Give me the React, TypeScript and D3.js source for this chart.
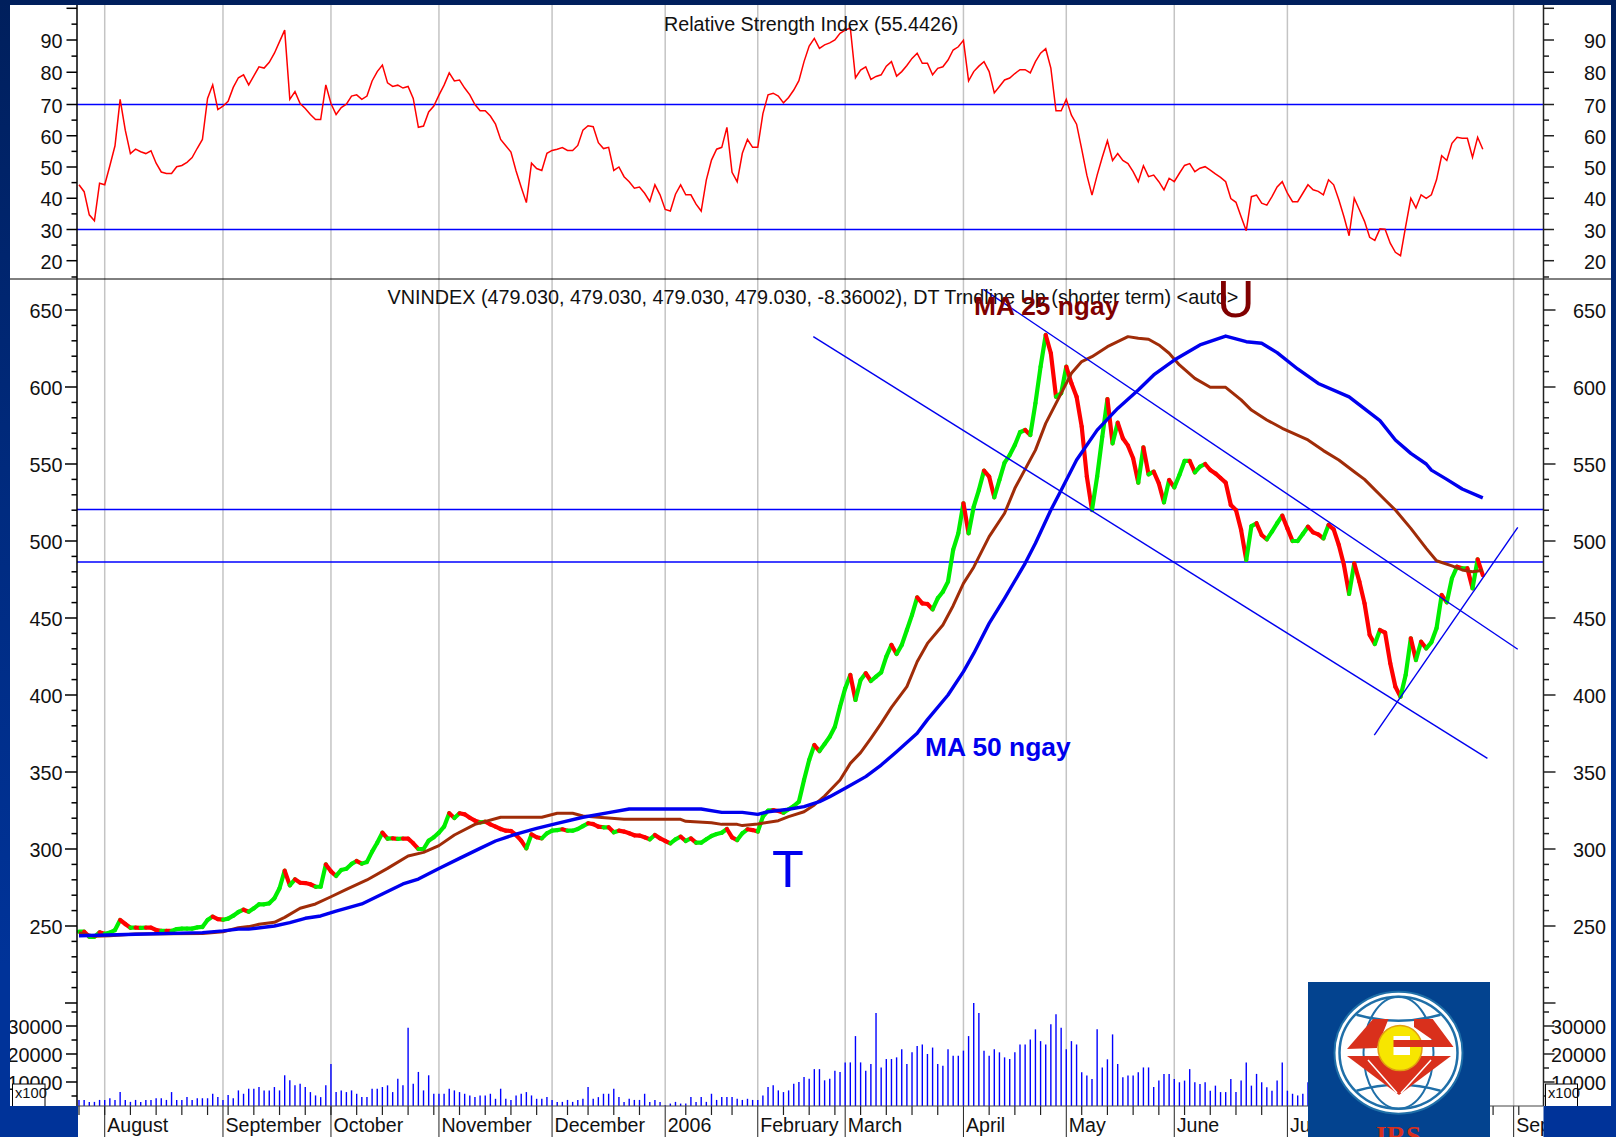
import * as d3 from 'd3'

// bar number of each month line and its label
const monthBars = [5, 28, 49, 70, 92, 114, 132, 149, 172, 192, 213, 235, 279]
const monthLabels = ['August', 'September', 'October', 'November', 'December', '2006', 'February', 'March', 'April', 'May', 'June', 'July', 'September']
const weekBars = [0, 5, 10, 15, 20, 25, 29, 34, 39, 44, 49, 54, 59, 64, 69, 74, 79, 84, 89, 95, 99, 104, 109, 118, 123, 127, 137, 142, 147, 152, 157, 162, 167, 177, 182, 187, 195, 200, 205, 210, 215, 220, 225, 230, 275, 280]

const closes = [
	246.3, 246.3, 243, 243, 245.9, 245, 245.7, 247.4, 253.9, 251.3,
	248.9, 249, 248.8, 249, 248.9, 247.4, 246.8, 246.9, 246.8, 248,
	248.3, 248.3, 248.3, 249.1, 249.4, 253.9, 256.1, 254.5, 254.1, 254.8,
	256.7, 259.1, 260.6, 259.3, 261.5, 264.1, 264.1, 264.7, 268, 274.5,
	285.9, 276.4, 280.3, 278.1, 277.9, 277.1, 275.5, 275.5, 290, 285.5,
	282.5, 286.4, 287.2, 290.3, 292.2, 290.5, 291.6, 298.3, 304.1, 310.6,
	306.7, 306.9, 306.6, 306.8, 306.7, 303.7, 300, 300, 305.4, 307.6,
	310.6, 314.5, 323.2, 320.1, 323.2, 322.5, 320.3, 318.4, 317.3, 317.7,
	316, 314.5, 313, 311.9, 311.7, 309.1, 305.4, 300.4, 309.5, 307.6,
	306.9, 310.2, 311.9, 312.3, 312.8, 311.9, 311.9, 313, 314.9, 316.7,
	316.2, 314.5, 314.1, 314.1, 310.8, 311.9, 311.3, 310.2, 308.9, 308.7,
	307.6, 306.3, 309.1, 306.9, 305.2, 303.7, 306.3, 308, 305.2, 306.9,
	304.1, 304.1, 306.3, 308.4, 309.7, 310.6, 313, 307.6, 305.8, 310.2,
	312.8, 312.3, 311.3, 321, 324.9, 325.3, 324.7, 323.6, 325.8, 327.9,
	330.7, 344.8, 357.8, 367.5, 363.6, 368.2, 372.9, 379.4, 392.4, 404.3,
	413, 396.8, 409.7, 414.1, 409.1, 411.9, 414.7, 424.9, 432.5, 426.6,
	432.5, 442.2, 452, 463.4, 459.5, 459.1, 455.6, 462.8, 467.1, 473.6,
	494.2, 505, 524.5, 505, 522.3, 533.1, 545.7, 541.8, 528.4, 539.6,
	550.9, 555.8, 562.3, 570.6, 572.1, 568.8, 589.4, 613.2, 633.8, 621.9,
	593.7, 595.9, 613.2, 602.4, 593.7, 574.2, 541.8, 520.1, 541.8, 567.7,
	592.2, 563.4, 576.8, 566.7, 561.9, 553.7, 537.9, 560.8, 543.3, 545,
	537.4, 525.1, 539.6, 534.8, 542.9, 552, 552, 544.6, 548.3, 550,
	546.1, 543.9, 540.9, 537.9, 523.4, 520.1, 507.1, 487.7, 509.7, 511.5,
	503.9, 501.1, 506.1, 511.5, 516.5, 508.2, 500, 500, 504.5, 509.3,
	505.6, 504.3, 501.7, 510.4, 507.6, 497.4, 484.4, 465.6, 485.5, 473.6,
	459.5, 439, 433.1, 442.2, 440.5, 420.6, 405.4, 398.9, 413, 436.8,
	422.7, 434.6, 430.3, 434.2, 443.3, 464.9, 460.2, 475.8, 483.3, 482.3,
	482.3, 469.3, 488.1, 477.9,
]

const rsiValues = [
	44.3, 42.1, 34.7, 32.8, 44.8, 44.3, 50.4, 56.8, 71.6, 61.8,
	54.3, 55.7, 54.9, 54.3, 55.2, 51.2, 48.4, 47.9, 47.9, 50.1,
	50.5, 51.5, 53, 56, 58.8, 71.9, 76.1, 68.4, 69.5, 71,
	75.3, 78.3, 79.2, 76.1, 78.9, 81.7, 81.3, 83.1, 85.9, 89.5,
	93.1, 71.6, 74, 70.3, 68.7, 66.8, 65.2, 65.2, 76.1, 70.3,
	66.8, 69, 70.1, 72.6, 73, 71.6, 72.6, 77.3, 80.2, 82.2,
	76.7, 75.6, 76, 75.1, 75.6, 71.9, 62.7, 63.1, 67.6, 69.5,
	72.9, 76, 79.8, 77.3, 77.6, 75.1, 73, 70, 68, 68,
	66.3, 63.7, 58.8, 56.8, 54.8, 48.7, 43.5, 38.6, 51.2, 49.5,
	48.9, 54.4, 55.3, 55.7, 56.2, 55.3, 55.3, 56.9, 61.8, 63.2,
	62.9, 57.8, 55.9, 56.3, 48.9, 50, 46.9, 45.3, 43.2, 43.6,
	41.6, 39, 44.3, 41.1, 36.4, 35.9, 41.3, 44.3, 41.1, 41.1,
	38.1, 35.9, 45.9, 52.2, 55.7, 56.3, 62.7, 48.3, 45.3, 54.4,
	58.8, 56.3, 56.3, 67.1, 73, 73.5, 72.6, 70.5, 72.2, 74.5,
	77.4, 83.3, 88.1, 90.5, 87.4, 88.5, 89.1, 90, 92.1, 93.1,
	93.8, 78.3, 80.7, 81.7, 77.8, 78.7, 79.2, 81.9, 83.3, 78.8,
	80.2, 82.1, 84.3, 85.9, 82.8, 82.8, 79.2, 81.2, 81.7, 83.8,
	86.9, 87.9, 89.9, 77.3, 80.2, 81.9, 83.3, 80.2, 73.6, 75.6,
	77.6, 78.2, 79.6, 80.8, 80.8, 79.8, 83.3, 85.9, 87.3, 81.3,
	68, 68, 71.6, 66.6, 63.7, 55.7, 47.4, 41, 47.4, 53.1,
	58.4, 52.1, 54.3, 52.1, 51.1, 48.5, 45.3, 50.4, 46.9, 47.4,
	45.3, 42.7, 46.4, 45.3, 48, 50.5, 51.1, 48.5, 49.6, 50.1,
	49, 47.8, 46.7, 45.3, 39.9, 38.7, 34.1, 29.6, 40.5, 41,
	38.4, 37.8, 40.5, 43.6, 45.3, 41.6, 38.9, 38.9, 41.6, 44.3,
	42.7, 42.2, 41.1, 45.9, 44.3, 39.5, 34.1, 28, 40, 36.3,
	32.6, 27.5, 26.5, 30.2, 30.1, 25.6, 22.7, 21.6, 31, 40,
	36.9, 41.1, 40, 41.1, 45.9, 53.6, 52.1, 57.6, 59.5, 59.2,
	59.2, 53.1, 59.5, 55.7,
]

const volumes = [
	3600, 3600, 2900, 2900, 3600, 3600, 4200, 3600, 6400, 3600,
	2900, 3600, 2900, 3600, 3600, 4200, 4200, 3600, 6400, 3600,
	3600, 4600, 3600, 4200, 4200, 4200, 5800, 4600, 3600, 5400,
	4200, 7000, 5800, 7600, 7600, 8200, 7000, 7000, 8200, 7000,
	12400, 10600, 8800, 9400, 8200, 6400, 5200, 4600, 8800, 16400,
	6400, 7000, 6400, 7000, 5800, 4600, 4600, 7600, 7600, 8200,
	8800, 6400, 11200, 8800, 29400, 9400, 13600, 7000, 12400, 5800,
	5800, 5800, 7600, 7000, 6400, 5800, 5200, 4600, 5200, 5200,
	5800, 4000, 7600, 4000, 3600, 5200, 5800, 6400, 5200, 4000,
	4000, 4600, 3600, 2900, 2900, 3600, 2900, 3600, 4000, 8200,
	4000, 4600, 5800, 5800, 7600, 4600, 2900, 4000, 3600, 3600,
	5800, 2900, 3600, 2900, 1700, 2300, 2900, 2300, 2300, 4600,
	2900, 4600, 2900, 5800, 3600, 4600, 4600, 4600, 4000, 3600,
	4000, 3600, 3600, 5200, 8200, 8800, 7000, 6400, 7000, 9400,
	10000, 11800, 11200, 14600, 14600, 10600, 11200, 14000, 13600, 17000,
	17000, 26400, 17000, 14000, 16400, 34600, 15200, 18200, 18200, 18800,
	21700, 16400, 20600, 22900, 23400, 20000, 22300, 16400, 15800, 21700,
	19400, 19400, 21200, 26400, 38200, 34600, 21200, 19400, 21700, 20600,
	18800, 18200, 20600, 23400, 23400, 25200, 28800, 24600, 23400, 30600,
	34200, 29400, 21700, 24600, 23400, 13500, 12300, 11100, 28800, 15200,
	18100, 27000, 16400, 11700, 12300, 12300, 13500, 15200, 15200, 8200,
	10500, 12900, 12900, 11100, 9900, 10500, 14600, 9900, 9300, 9900,
	6900, 8700, 6400, 6400, 11100, 6400, 10500, 17000, 8700, 12900,
	9900, 8100, 6900, 10500, 17000, 6900, 5800, 5200, 5800, 9900,
	7000, 8200, 6400, 5800, 9400, 7000, 5200, 6400, 7600, 8800,
	7000, 9400, 10600, 8200, 7000, 9900, 11200, 12400, 10600, 9400,
	12400, 14000, 11800, 13600,
]

// moving averages, read at their bends: bar number and level
const ma25Bars = [0, 3, 6, 11, 24, 28, 31, 33, 35, 38, 40, 43, 46, 49, 52, 56, 60, 64, 67, 70, 73, 77, 82, 90, 93, 96, 98, 106, 117, 118, 123, 125, 128, 129, 132, 136, 138, 141, 143, 145, 148, 150, 152, 154, 156, 158, 161, 163, 165, 168, 170, 172, 174, 177, 180, 182, 186, 188, 191, 193, 195, 197, 200, 202, 204, 206, 208, 210, 212, 214, 217, 220, 223, 226, 228, 231, 234, 239, 242, 245, 248, 250, 254, 256, 259, 262, 264, 267, 269, 271, 273]
const ma25Values = [245.7, 243.3, 243.7, 244.8, 245.2, 246.3, 248.9, 249.6, 251.1, 252.4, 255.6, 261.5, 264.3, 269, 273.8, 279.9, 287.4, 295.5, 297.8, 302.2, 309.1, 316, 320.6, 320.6, 323.2, 323.2, 321.4, 319.3, 319.3, 318, 317.1, 316, 316, 315.2, 316.2, 318.4, 321, 324.2, 328.6, 334.4, 344.8, 355.6, 362.6, 371.9, 381.6, 392, 405.4, 421.6, 433.5, 445.5, 458, 472.5, 483, 502.8, 518, 534.2, 559, 576.4, 595.9, 608.9, 616.5, 619.7, 626.2, 629.4, 632.7, 631.6, 631, 627.3, 621.9, 614.3, 605.6, 599.8, 599.8, 591.6, 585, 578.6, 573.2, 565.6, 558.7, 552.6, 545, 540, 526.6, 520.1, 508.2, 495.2, 487.2, 483.8, 481.2, 480, 481]

const ma50Bars = [0, 11, 24, 28, 31, 33, 38, 41, 44, 47, 50, 55, 59, 63, 66, 70, 74, 78, 81, 85, 89, 93, 98, 103, 107, 121, 125, 129, 132, 134, 138, 141, 144, 146, 149, 153, 156, 159, 163, 165, 169, 172, 174, 177, 180, 184, 186, 189, 191, 194, 198, 202, 206, 209, 213, 218, 223, 227, 230, 233, 237, 241, 247, 253, 256, 259, 262, 263, 266, 269, 273]
const ma50Values = [243.7, 244.6, 245.7, 246.8, 248, 248, 250, 252.2, 255, 256.5, 259.7, 264.3, 270.8, 277.3, 280.5, 287.4, 293.9, 300.4, 305.2, 309.7, 313.4, 316.7, 320.6, 323.6, 326, 326, 323.8, 323.8, 322.5, 324.2, 325.8, 327.5, 330.7, 334, 339.4, 347, 354.5, 363.2, 375.1, 384, 400, 415.2, 427, 446.5, 462.8, 485.5, 498.5, 520.1, 533, 552.6, 572, 586.1, 598, 607.8, 617.5, 627.3, 633.1, 629.4, 628.4, 622.3, 611.7, 602.3, 593.6, 578.2, 565.6, 556.9, 550, 546, 540, 533.8, 528]

const resistanceLevels = [520.5, 486.4]
const rsiLevels = [30, 70]

// drawn trendlines as [bar, level] pairs
const trendLines = [
	[[142.8, 632.7], [273.9, 358.9]],
	[[175.9, 663.4], [279.8, 429.7]],
	[[251.9, 374], [279.8, 508.9]],
]

const rsiTicks = d3.range(15, 101, 5)
const priceTicks = d3.range(200, 661, 10)
const volumeTicks = [5000, 10000, 15000, 20000, 25000, 30000, 35000]

const W = 1616
const H = 1137
const axisL = 77
const axisR = 1543.5
const baseY = 1106
const font = "'Liberation Sans', Arial, sans-serif"

const x = d3.scaleLinear().domain([0, 285]).range([79, 1544.5])
const yRsi = d3.scaleLinear().domain([15, 20, 30, 70, 90, 100]).range([277, 260.7, 229.5, 104.5, 40, 8.3])
const yPrice = d3.scaleLinear().domain([250, 650]).range([926, 310])
const yVol = d3.scaleLinear().domain([10000, 30000]).range([1082, 1026])

const rsiLine = d3.line<number>().x((d, i) => x(i)).y((d) => yRsi(d))
const ma25Line = d3.line<number>().x((d, i) => x(ma25Bars[i])).y((d) => yPrice(d))
const ma50Line = d3.line<number>().x((d, i) => x(ma50Bars[i])).y((d) => yPrice(d))

function Ticks({ scale, values, isMajor, major, labels }: any) {
	return (
		<g>
			{values.map((v: number) => {
				const y = scale(v)
				const len = isMajor(v) ? major : 5.5
				return (
					<g key={v}>
						<line x1={axisL - len} x2={axisL} y1={y} y2={y} stroke="#000" strokeWidth={1.5} />
						<line x1={axisR} x2={axisR + len} y1={y} y2={y} stroke="#222" strokeWidth={1.5} />
					</g>
				)
			})}
			{labels.map((v: number) => (
				<g key={v} fontSize={19.8} fill="#111">
					<text x={62.5} y={scale(v) + 8} textAnchor="end">{v}</text>
					<text x={1606} y={scale(v) + 8} textAnchor="end">{v}</text>
				</g>
			))}
		</g>
	)
}

function Logo() {
	const cx = 1398.5
	const cy = 1052.7
	return (
		<g>
			<rect x={1308} y={982} width={182} height={155} fill="#03438f" />
			<ellipse cx={cx} cy={cy} rx={64} ry={61} fill="#fff" stroke="#1f6fa8" strokeWidth={2} />
			<ellipse cx={cx} cy={cy} rx={59} ry={56} fill="#fff" stroke="#1f6fa8" strokeWidth={2.5} />
			<ellipse cx={cx} cy={cy} rx={35} ry={56} fill="none" stroke="#1f6fa8" strokeWidth={2} />
			<path d={`M${cx - 42},${cy - 38} Q${cx},${cy - 26} ${cx + 42},${cy - 38}`} fill="none" stroke="#1f6fa8" strokeWidth={2.5} />
			<path d={`M${cx - 42},${cy + 38} Q${cx},${cy + 26} ${cx + 42},${cy + 38}`} fill="none" stroke="#1f6fa8" strokeWidth={2.5} />
			<path d="M1373,1019 L1388.5,1019 L1377,1048 L1347,1049 Z" fill="#d9301c" />
			<path d="M1347,1056 L1451,1056 L1399,1095 Z" fill="#d9301c" />
			<path d="M1368,1060 L1397,1093 M1431,1060 L1401,1093" stroke="#fff" strokeWidth={1.5} />
			<ellipse cx={1400} cy={1048} rx={22} ry={22.5} fill="#f7e600" stroke="#e0a010" strokeWidth={1.5} />
			<path d="M1414,1019 L1432.7,1019 L1453.5,1047 L1393.5,1047 L1393.5,1040 L1432.7,1040 L1414,1027 Z" fill="#d9301c" />
			<rect x={1393.5} y={1036} width={16.5} height={4} fill="#fff" />
			<rect x={1393.5} y={1047} width={16.5} height={8} fill="#fff" />
			<text x={cx} y={1145} textAnchor="middle" fontFamily="'Liberation Serif', serif" fontWeight="bold" fontSize={27} fill="#d9301c">IRS</text>
		</g>
	)
}

export default function App() {
	return (
		<svg width={W} height={H} style={{ position: 'fixed', left: 0, top: 0, display: 'block' }} fontFamily={font}>
			<defs>
				<linearGradient id="frame" x1="0" y1="0" x2="0" y2="1">
					<stop offset="0" stopColor="#001f5c" />
					<stop offset="0.45" stopColor="#002b80" />
					<stop offset="0.85" stopColor="#003399" />
					<stop offset="1" stopColor="#003399" />
				</linearGradient>
			</defs>
			<rect width={W} height={H} fill="#fff" />

			{/* month grid */}
			{monthBars.map((b) => (
				<g key={b}>
					<line x1={x(b)} x2={x(b)} y1={5} y2={baseY} stroke="#c4c4c4" strokeWidth={1.5} />
					<line x1={x(b)} x2={x(b)} y1={baseY} y2={H} stroke="#222" strokeWidth={1} />
				</g>
			))}
			{weekBars.map((b) => (
				<line key={b} x1={x(b)} x2={x(b)} y1={baseY} y2={baseY + 9} stroke="#222" strokeWidth={1.2} />
			))}
			{monthBars.map((b, i) => (
				<text key={b} x={x(b) + 2.5} y={1132} fontSize={19.6} fill="#111">{monthLabels[i]}</text>
			))}

			{/* RSI panel */}
			{rsiLevels.map((l) => (
				<line key={l} x1={axisL} x2={axisR} y1={yRsi(l)} y2={yRsi(l)} stroke="#0000ff" strokeWidth={1.5} />
			))}
			<path d={rsiLine(rsiValues) ?? ''} fill="none" stroke="#ff0000" strokeWidth={1.5} />
			<text x={664} y={31} fontSize={19.7} fill="#111">Relative Strength Index (55.4426)</text>

			{/* volume */}
			{volumes.map((v, i) => (
				<line key={i} x1={x(i)} x2={x(i)} y1={baseY} y2={yVol(v)} stroke="#0000ff" strokeWidth={1.4} />
			))}

			{/* price panel */}
			{resistanceLevels.map((l) => (
				<line key={l} x1={axisL} x2={axisR} y1={yPrice(l)} y2={yPrice(l)} stroke="#0000ff" strokeWidth={1.5} />
			))}
			{closes.slice(1).map((c, i) => (
				<line
					key={i}
					x1={x(i)}
					x2={x(i + 1)}
					y1={yPrice(closes[i])}
					y2={yPrice(c)}
					stroke={c >= closes[i] ? '#00ee00' : '#ff0000'}
					strokeWidth={4.2}
					strokeLinecap="round"
				/>
			))}
			<path d={ma25Line(ma25Values) ?? ''} fill="none" stroke="#a02c08" strokeWidth={3} strokeLinejoin="round" />
			<path d={ma50Line(ma50Values) ?? ''} fill="none" stroke="#0000ee" strokeWidth={3.4} strokeLinejoin="round" />
			{trendLines.map((t, i) => (
				<line key={i} x1={x(t[0][0])} y1={yPrice(t[0][1])} x2={x(t[1][0])} y2={yPrice(t[1][1])} stroke="#0000ee" strokeWidth={1.4} />
			))}

			<text x={387.5} y={304} fontSize={19.8} fill="#111">VNINDEX (479.030, 479.030, 479.030, 479.030, -8.36002), DT Trndline Up (shorter term) &lt;auto&gt;</text>
			<text x={974} y={315} fontSize={26.3} fontWeight="bold" fill="#800000">MA 25 ngay</text>
			<text x={925} y={756} fontSize={26.4} fontWeight="bold" fill="#0000ee">MA 50 ngay</text>
			<text x={772} y={887} fontSize={52} fill="#0000ee">T</text>
			<text x={1217} y={317} fontSize={52} fill="#800000">U</text>

			{/* axes */}
			<line x1={10} x2={1611} y1={279} y2={279} stroke="#000" strokeWidth={1} />
			<line x1={axisL} x2={axisL} y1={5} y2={baseY} stroke="#000" strokeWidth={1.5} />
			<line x1={axisR} x2={axisR} y1={5} y2={baseY} stroke="#222" strokeWidth={1.5} />
			<line x1={axisL} x2={axisR} y1={baseY} y2={baseY} stroke="#444" strokeWidth={1} />
			<Ticks scale={yRsi} values={rsiTicks} isMajor={(v: number) => v % 10 === 0} major={10.5} labels={d3.range(20, 91, 10)} />
			<Ticks scale={yPrice} values={priceTicks} isMajor={(v: number) => v % 50 === 0} major={12} labels={d3.range(250, 651, 50)} />
			<Ticks scale={yVol} values={volumeTicks} isMajor={(v: number) => v % 10000 === 0} major={11} labels={[10000, 20000, 30000]} />

			{/* x100 boxes */}
			<g>
				<rect x={12.5} y={1084} width={32.5} height={23} fill="#fff" stroke="#000" />
				<text x={15} y={1098} fontSize={14.7} fill="#111">x100</text>
				<rect x={1545.5} y={1084} width={32} height={23} fill="#fff" stroke="#000" />
				<text x={1548} y={1098} fontSize={14.7} fill="#111">x100</text>
			</g>

			<Logo />

			{/* frame */}
			<path
				d={`M0,0 H${W} V${H} H${axisR} V${baseY} H${W - 5} V5 H10 V${baseY} H78 V${H} H0 Z`}
				fill="url(#frame)"
			/>
		</svg>
	)
}
